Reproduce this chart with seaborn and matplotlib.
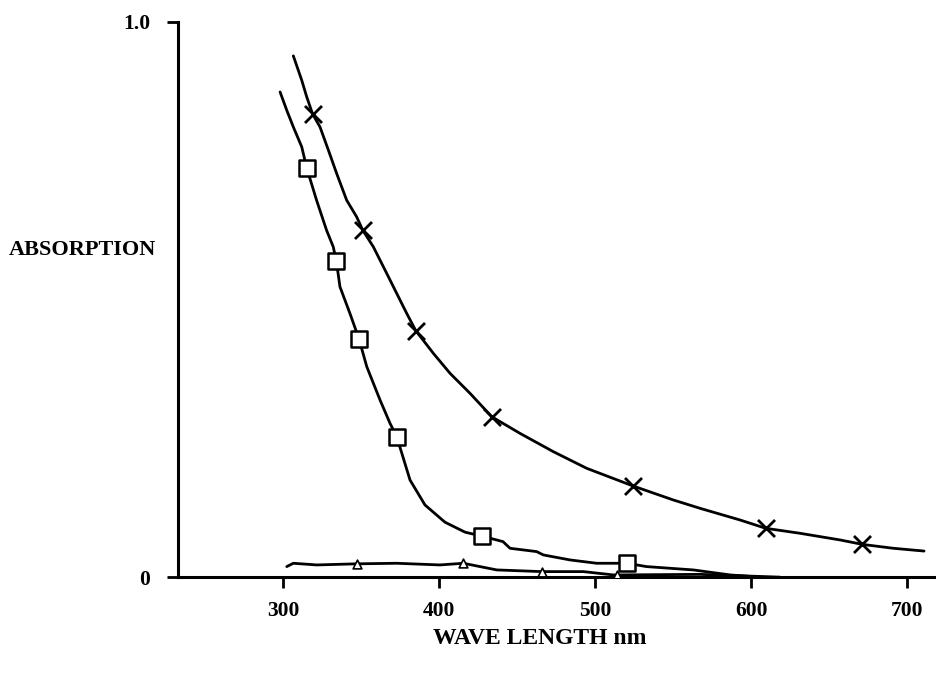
import numpy as np
import pandas as pd
import matplotlib
matplotlib.use("Agg")
import matplotlib.pyplot as plt
import seaborn as sns

# curve (wavelength nm, absorption)
cross_wl = [306.6, 312.0, 315.2, 319.0, 323.7, 329.1, 334.4, 340.8, 347.2, 351.1, 357.9, 366.5,
            372.9, 379.3, 385.1, 396.4, 407.1, 419.9, 433.8, 451.9, 473.3, 494.7, 524.6, 550.2,
            567.3, 592.9, 609.4, 631.4, 657.1, 671.4, 691.2, 710.9]
cross_abs = [0.939, 0.895, 0.865, 0.834, 0.811, 0.769, 0.727, 0.679, 0.649, 0.625, 0.595, 0.547,
             0.511, 0.475, 0.444, 0.403, 0.367, 0.331, 0.289, 0.259, 0.226, 0.196, 0.164, 0.139,
             0.124, 0.103, 0.088, 0.079, 0.067, 0.059, 0.052, 0.047]

square_wl = [298.1, 302.4, 306.6, 312.0, 315.2, 321.5, 327.9, 332.2, 334.2, 336.5, 342.9, 348.7,
             353.7, 362.2, 368.6, 372.9, 381.4, 391.0, 403.8, 416.7, 427.4, 441.0, 445.5, 462.6,
             466.9, 484.0, 501.1, 520.3, 533.1, 563.0, 586.5, 605.8]
square_abs = [0.874, 0.841, 0.811, 0.775, 0.737, 0.679, 0.625, 0.595, 0.569, 0.523, 0.475, 0.429,
              0.379, 0.319, 0.277, 0.253, 0.175, 0.130, 0.099, 0.081, 0.074, 0.064, 0.052, 0.046,
              0.040, 0.031, 0.025, 0.025, 0.019, 0.013, 0.004, 0.0]

tri_wl = [302.4, 306.6, 321.6, 347.2, 372.9, 400.6, 415.6, 437.0, 465.8, 492.5, 511.7, 513.9,
          567.3, 618.6]
tri_abs = [0.019, 0.025, 0.022, 0.024, 0.025, 0.022, 0.025, 0.013, 0.010, 0.010, 0.004, 0.004,
           0.005, 0.0]

# marker positions
cross_mk_wl = [319.0, 351.1, 385.1, 433.8, 524.6, 609.4, 671.4]
cross_mk_abs = [0.834, 0.625, 0.444, 0.289, 0.164, 0.088, 0.059]
square_mk_wl = [315.2, 334.2, 348.7, 372.9, 427.4, 520.3]
square_mk_abs = [0.737, 0.569, 0.429, 0.253, 0.074, 0.025]
tri_mk_wl = [347.2, 415.6, 465.8, 513.9]
tri_mk_abs = [0.024, 0.025, 0.010, 0.004]

x_ticks = [300, 400, 500, 600, 700]
y_ticks = [0, 1.0]
y_tick_labels = ["0", "1.0"]

sns.set_style("ticks")
plt.rcParams["font.family"] = ["Liberation Serif", "DejaVu Serif"]
plt.rcParams["font.weight"] = "bold"
plt.rcParams["text.color"] = "black"
plt.rcParams["xtick.color"] = "black"
plt.rcParams["ytick.color"] = "black"
plt.rcParams["axes.edgecolor"] = "black"

fig = plt.figure(figsize=(9.37, 6.79), dpi=100)
ax = fig.add_axes([0.190, 0.150, 0.810, 0.8176])

lines = pd.concat([
    pd.DataFrame({"wl": cross_wl, "a": cross_abs, "s": "cross"}),
    pd.DataFrame({"wl": square_wl, "a": square_abs, "s": "square"}),
    pd.DataFrame({"wl": tri_wl, "a": tri_abs, "s": "tri"}),
])
sns.lineplot(data=lines, x="wl", y="a", units="s", estimator=None, sort=False,
             color="black", lw=2.0, ax=ax)

sns.scatterplot(x=cross_mk_wl, y=cross_mk_abs, marker="x", s=150, color="black",
                linewidth=2.0, ax=ax, zorder=5)
sns.scatterplot(x=square_mk_wl, y=square_mk_abs, marker="s", s=140, facecolor="white",
                edgecolor="black", linewidth=1.8, ax=ax, zorder=5)
sns.scatterplot(x=tri_mk_wl, y=tri_mk_abs, marker="^", s=40, facecolor="white",
                edgecolor="black", linewidth=1.2, ax=ax, zorder=5)

ax.set_xlim(232.7, 719.2)
ax.set_ylim(0, 1.0)
ax.set_xticks(x_ticks)
ax.set_yticks(y_ticks)
ax.set_yticklabels(y_tick_labels)
ax.set_xlabel("")
ax.set_ylabel("")
sns.despine(ax=ax)
for sp in ["left", "bottom"]:
    ax.spines[sp].set_linewidth(2.2)
    ax.spines[sp].set_color("black")
ax.tick_params(axis="both", direction="out", length=8, width=2.0, labelsize=15.5,
               colors="black")
ax.tick_params(axis="x", pad=9)
ax.tick_params(axis="y", pad=12)
for t in ax.get_xticklabels() + ax.get_yticklabels():
    t.set_fontweight("bold")

fig.text(0.009, 0.632, "ABSORPTION", ha="left", va="center", fontsize=16, fontweight="bold",
         color="black")
fig.text(0.576, 0.060, "WAVE LENGTH nm", ha="center", va="center", fontsize=17,
         fontweight="bold", color="black")

fig.savefig("out.png", dpi=100)
